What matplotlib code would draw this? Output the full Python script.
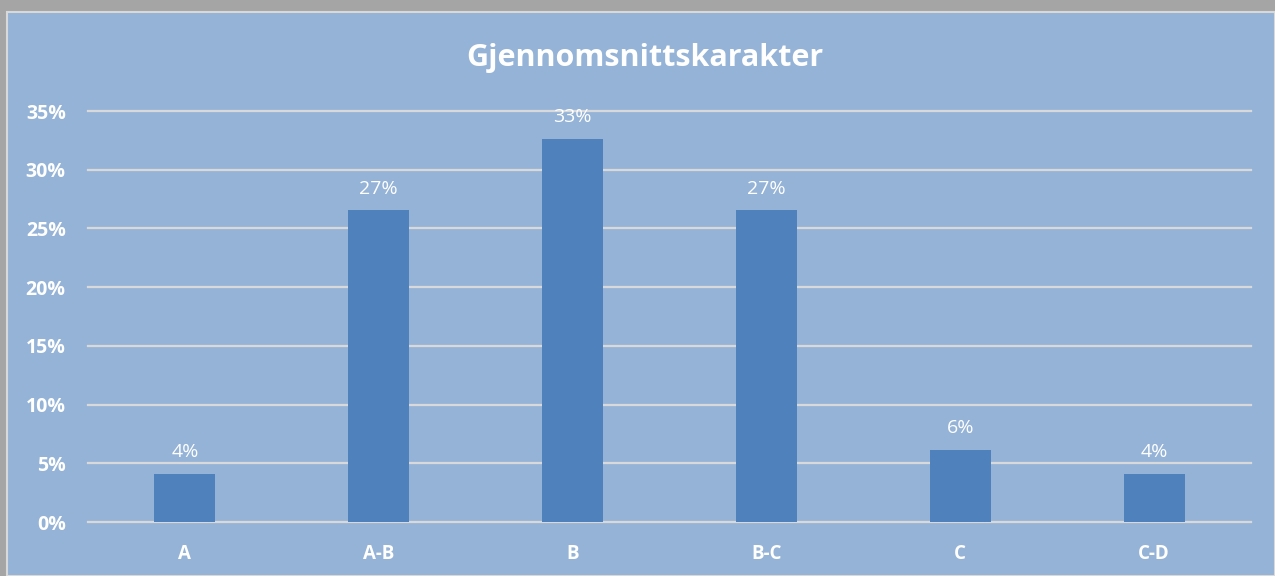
import matplotlib
matplotlib.use("Agg")
from matplotlib import pyplot as plt
from matplotlib.patches import Rectangle

categories = ["A", "A-B", "B", "B-C", "C", "C-D"]
shares = [4.08, 26.53, 32.65, 26.53, 6.12, 4.08]  # percent
labels = ["4%", "27%", "33%", "27%", "6%", "4%"]
yticks = [0, 5, 10, 15, 20, 25, 30, 35]

W, H = 1275, 576
bg = "#95B3D7"
bar_color = "#4F81BD"
grid_color = "#D9D9D9"

plt.rcParams["font.family"] = ["Open Sans", "DejaVu Sans"]

fig = plt.figure(figsize=(W / 100, H / 100), dpi=100)
fig.patch.set_facecolor("#A5A5A5")

# chart area with light border
fig.patches.append(
    Rectangle((7 / W, 0), 1 - 7 / W, 1 - 12 / H, transform=fig.transFigure,
              facecolor=bg, edgecolor=grid_color, linewidth=1.5, zorder=-5)
)

ax = fig.add_axes([88 / W, 1 - 522 / H, (1251 - 88) / W, (522 - 111) / H])
ax.set_facecolor("none")
ax.set_zorder(2)

x = list(range(len(categories)))
ax.bar(x, shares, width=0.315, color=bar_color, zorder=3)
for i, (v, lab) in enumerate(zip(shares, labels)):
    ax.annotate(lab, (i, v), xytext=(0, 12), textcoords="offset points",
                ha="center", va="baseline", color="white", fontsize=14)

ax.set_xlim(-0.5, len(categories) - 0.5)
ax.set_ylim(0, 35)
ax.set_yticks(yticks)
ax.set_yticklabels([f"{t}%" for t in yticks], color="white", fontweight="bold", fontsize=14)
for t in yticks:
    ax.axhline(t, color=grid_color, linewidth=1.6, zorder=1, clip_on=False)
ax.tick_params(axis="y", length=0, pad=16)
ax.tick_params(axis="x", length=0, pad=16)
ax.set_xticks(x)
ax.set_xticklabels(categories, color="white", fontweight="bold", fontsize=13.5)
for s in ax.spines.values():
    s.set_visible(False)

fig.text(645 / W, 1 - 58 / H, "Gjennomsnittskarakter", ha="center", va="center",
         color="white", fontweight="bold", fontsize=22)

fig.savefig("out.png", dpi=100, facecolor=fig.get_facecolor())
